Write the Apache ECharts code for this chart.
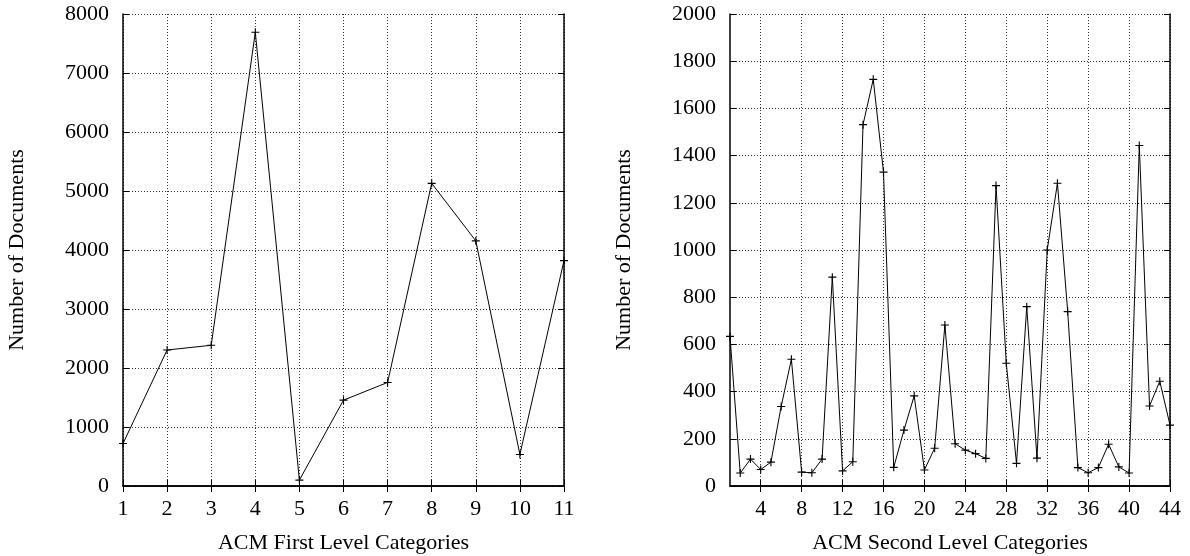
<!DOCTYPE html>
<html>
<head>
<meta charset="utf-8">
<script src="https://cdn.jsdelivr.net/npm/echarts@6/dist/echarts.min.js"></script>
<style>
  html, body { margin: 0; padding: 0; background: #fff; }
  #chart { width: 1190px; height: 556px; }
</style>
</head>
<body>
<div id="chart"></div>
<script>
// ACM first level categories (1..11) and their document counts
const firstLevelCats = [1, 2, 3, 4, 5, 6, 7, 8, 9, 10, 11];
const firstLevelDocs = [720, 2305, 2385, 7690, 100, 1455, 1755, 5130, 4155, 535, 3820];

// ACM second level categories (1..44) and their document counts
const secondLevelCats = [1, 2, 3, 4, 5, 6, 7, 8, 9, 10, 11, 12, 13, 14, 15, 16, 17, 18, 19, 20, 21, 22,
  23, 24, 25, 26, 27, 28, 29, 30, 31, 32, 33, 34, 35, 36, 37, 38, 39, 40, 41, 42, 43, 44];
const secondLevelDocs = [634, 55, 114, 70, 101, 337, 537, 59, 56, 114, 885, 64, 103, 1531, 1723, 1330,
  79, 237, 382, 68, 160, 682, 179, 152, 137, 117, 1273, 520, 96, 760, 118, 1000, 1283, 739,
  78, 56, 78, 177, 81, 55, 1443, 339, 444, 258];

// tick labels on the second-level category axis
const secondLevelTicks = [4, 8, 12, 16, 20, 24, 28, 32, 36, 40, 44];

const FONT = '"Liberation Serif", "DejaVu Serif", serif';
const FS = 22;
const black = '#000';
const frame = { show: true, lineStyle: { color: black, width: 1.5 } };
const tick = { show: true, inside: true, length: 6, lineStyle: { color: black, width: 1 } };
const grid = { show: true, lineStyle: { color: '#333', width: 1, type: [1, 2] } };
const plain = v => String(v);
const label = { color: black, fontFamily: FONT, fontSize: FS };
const tickLabel = m => Object.assign({ margin: m, formatter: plain, hideOverlap: false }, label);
const plus = 'path://M4.3,0H5.7V4.3H10V5.7H5.7V10H4.3V5.7H0V4.3H4.3Z';

function toPairs(xs, ys) { return xs.map((x, i) => [x, ys[i]]); }

const option = {
  animation: false,
  backgroundColor: '#fff',
  grid: [
    { left: 123, top: 14, width: 441, height: 472, containLabel: false, outerBoundsMode: 'none' },
    { left: 730, top: 14, width: 440, height: 472, containLabel: false, outerBoundsMode: 'none' }
  ],
  xAxis: [
    {
      gridIndex: 0, type: 'value', position: 'bottom', min: 1, max: 11, interval: 1,
      name: 'ACM First Level Categories', nameLocation: 'middle', nameGap: 46,
      nameTextStyle: label,
      axisLine: frame, axisTick: tick, splitLine: grid,
      axisLabel: tickLabel(12)
    },
    {
      gridIndex: 0, type: 'value', position: 'top', min: 1, max: 11, interval: 1,
      axisLine: frame, axisTick: tick, splitLine: { show: false }, axisLabel: { show: false }
    },
    {
      gridIndex: 1, type: 'value', position: 'bottom', min: 1, max: 44,
      name: 'ACM Second Level Categories', nameLocation: 'middle', nameGap: 46,
      nameTextStyle: label,
      axisLine: frame,
      axisTick: Object.assign({ customValues: secondLevelTicks }, tick),
      splitLine: grid,
      axisLabel: Object.assign({ customValues: secondLevelTicks }, tickLabel(12))
    },
    {
      gridIndex: 1, type: 'value', position: 'top', min: 1, max: 44,
      axisLine: frame,
      axisTick: Object.assign({ customValues: secondLevelTicks }, tick),
      splitLine: { show: false }, axisLabel: { show: false }
    }
  ],
  yAxis: [
    {
      gridIndex: 0, type: 'value', position: 'left', min: 0, max: 8000, interval: 1000,
      name: 'Number of Documents', nameLocation: 'middle', nameGap: 95, nameRotate: 90,
      nameTextStyle: label,
      axisLine: frame, axisTick: tick, splitLine: grid,
      axisLabel: tickLabel(14)
    },
    {
      gridIndex: 0, type: 'value', position: 'right', min: 0, max: 8000, interval: 1000,
      axisLine: frame, axisTick: tick, splitLine: { show: false }, axisLabel: { show: false }
    },
    {
      gridIndex: 1, type: 'value', position: 'left', min: 0, max: 2000, interval: 200,
      name: 'Number of Documents', nameLocation: 'middle', nameGap: 95, nameRotate: 90,
      nameTextStyle: label,
      axisLine: frame, axisTick: tick, splitLine: grid,
      axisLabel: tickLabel(14)
    },
    {
      gridIndex: 1, type: 'value', position: 'right', min: 0, max: 2000, interval: 200,
      axisLine: frame, axisTick: tick, splitLine: { show: false }, axisLabel: { show: false }
    }
  ],
  series: [
    {
      type: 'line', xAxisIndex: 0, yAxisIndex: 0, clip: false,
      data: toPairs(firstLevelCats, firstLevelDocs),
      symbol: plus, symbolSize: 8, showAllSymbol: true,
      lineStyle: { color: black, width: 1 },
      itemStyle: { color: black, borderWidth: 0 }
    },
    {
      type: 'line', xAxisIndex: 2, yAxisIndex: 2, clip: false,
      data: toPairs(secondLevelCats, secondLevelDocs),
      symbol: plus, symbolSize: 8, showAllSymbol: true,
      lineStyle: { color: black, width: 1 },
      itemStyle: { color: black, borderWidth: 0 }
    }
  ]
};

const chart = echarts.init(document.getElementById('chart'), null, { renderer: 'canvas' });
chart.setOption(option);
</script>
</body>
</html>
